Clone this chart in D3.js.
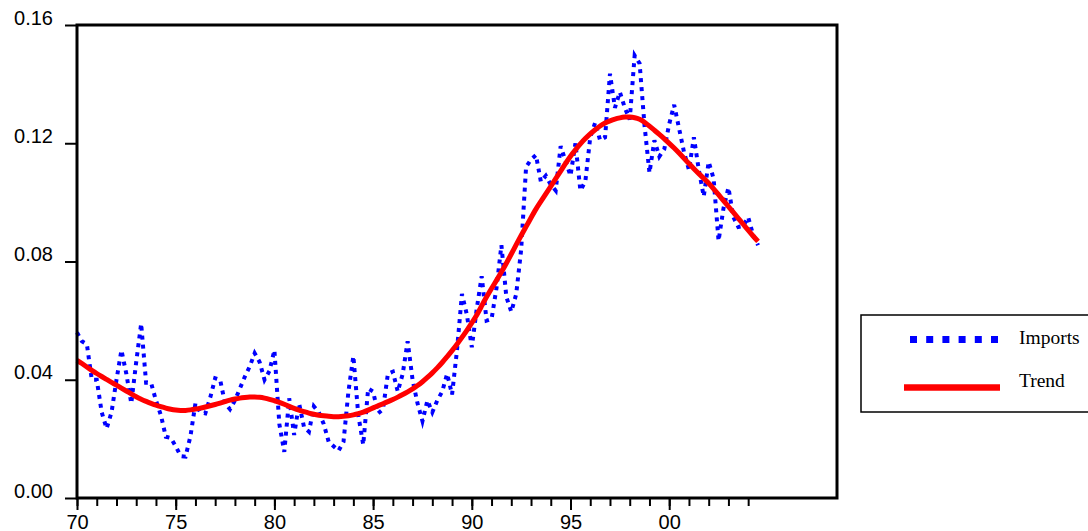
<!DOCTYPE html>
<html>
<head>
<meta charset="utf-8">
<script src="https://cdn.jsdelivr.net/npm/d3@7/dist/d3.min.js"></script>
<style>
  html, body { margin: 0; padding: 0; background: #fff; }
  svg { display: block; }
</style>
</head>
<body>
<svg id="chart" width="1088" height="531"></svg>
<script>
// ---- Data (quarterly, starting 1970Q1) ----
const startYear = 1970;
const imports = [
  0.056, 0.053, 0.052, 0.040, 0.040, 0.029, 0.0235, 0.029, 0.040, 0.050,
  0.042, 0.032, 0.046, 0.059, 0.039, 0.039, 0.033, 0.028, 0.0207, 0.0203,
  0.0175, 0.0142, 0.014, 0.021, 0.032, 0.029, 0.0286, 0.034, 0.0405, 0.040,
  0.032, 0.030, 0.033, 0.037, 0.041, 0.0445, 0.049, 0.046, 0.040, 0.043,
  0.050, 0.025, 0.0156, 0.0337, 0.0213, 0.032, 0.024, 0.0224, 0.031, 0.029,
  0.025, 0.019, 0.0175, 0.016, 0.019, 0.036, 0.048, 0.028, 0.018, 0.037,
  0.036, 0.0286, 0.030, 0.042, 0.0427, 0.036, 0.042, 0.053, 0.040, 0.032,
  0.026, 0.033, 0.029, 0.033, 0.036, 0.042, 0.035, 0.050, 0.069, 0.062,
  0.051, 0.064, 0.075, 0.060, 0.0605, 0.071, 0.0855, 0.068, 0.063, 0.069,
  0.084, 0.112, 0.1145, 0.116, 0.107, 0.109, 0.106, 0.104, 0.119, 0.114,
  0.109, 0.120, 0.104, 0.107, 0.122, 0.127, 0.121, 0.122, 0.1435, 0.132,
  0.1373, 0.132, 0.128, 0.1497, 0.147, 0.126, 0.110, 0.121, 0.1155, 0.118,
  0.1265, 0.133, 0.125, 0.117, 0.111, 0.122, 0.111, 0.102, 0.1137, 0.108,
  0.087, 0.098, 0.105, 0.095, 0.0917, 0.092, 0.095, 0.089, 0.0855
];
const trend = [
  0.0466, 0.0455, 0.0443, 0.0432,
  0.0421, 0.0411, 0.0401, 0.0391,
  0.0382, 0.0372, 0.0362, 0.0352,
  0.0342, 0.0334, 0.0327, 0.0320,
  0.0314, 0.0309, 0.0304, 0.0300,
  0.0297, 0.0296, 0.0296, 0.0298,
  0.0301, 0.0304, 0.0308, 0.0312,
  0.0316, 0.0321, 0.0326, 0.0331,
  0.0335, 0.0338, 0.0340, 0.0342,
  0.0342, 0.0341, 0.0338, 0.0334,
  0.0329, 0.0324, 0.0317, 0.0310,
  0.0303, 0.0297, 0.0292, 0.0287,
  0.0283, 0.0280, 0.0278, 0.0276,
  0.0275, 0.0275, 0.0276, 0.0278,
  0.0281, 0.0285, 0.0290, 0.0297,
  0.0305, 0.0312, 0.0319, 0.0326,
  0.0333, 0.0341, 0.0350, 0.0359,
  0.0369, 0.0380, 0.0393, 0.0408,
  0.0423, 0.0440, 0.0458, 0.0478,
  0.0498, 0.0520, 0.0543, 0.0567,
  0.0592, 0.0618, 0.0650, 0.0681,
  0.0709, 0.0736, 0.0764, 0.0794,
  0.0825, 0.0857, 0.0888, 0.0918,
  0.0948, 0.0978, 0.1003, 0.1029,
  0.1054, 0.1080, 0.1106, 0.1132,
  0.1157, 0.1178, 0.1198, 0.1216,
  0.1232, 0.1246, 0.1259, 0.1269,
  0.1276, 0.1282, 0.1286, 0.1289,
  0.1289, 0.1287, 0.1282, 0.1272,
  0.1258, 0.1244, 0.1230, 0.1215,
  0.1200, 0.1184, 0.1167, 0.1149,
  0.1131, 0.1114, 0.1097, 0.1081,
  0.1065, 0.1046, 0.1026, 0.1006,
  0.0986, 0.0966, 0.0946, 0.0926,
  0.0906, 0.0886, 0.0868
];
const yTicks = [0.00, 0.04, 0.08, 0.12, 0.16];
const yTickLabels = ["0.00", "0.04", "0.08", "0.12", "0.16"];
const xMajorYears = [1970, 1975, 1980, 1985, 1990, 1995, 2000];
const xMajorLabels = ["70", "75", "80", "85", "90", "95", "00"];
const xMinorYears = d3.range(1970, 2005);
const seriesNames = ["Imports", "Trend"];

// ---- Layout ----
const pLeft = 77, pRight = 837, pTop = 25, pBottom = 498;
const svg = d3.select("#chart");

const x = d3.scaleLinear().domain([1970, 2008.5]).range([pLeft, pRight]);
const y = d3.scaleLinear().domain([0, 0.16]).range([pBottom, pTop]);

const importsData = imports.map((v, i) => ({ t: startYear + i / 4, v }));
const trendData = trend.map((v, i) => ({ t: startYear + i / 4, v }));

// Lines
const lineLin = d3.line().x(d => x(d.t)).y(d => y(d.v));
const lineSmooth = d3.line().x(d => x(d.t)).y(d => y(d.v)).curve(d3.curveBasis);

svg.append("path")
  .datum(importsData)
  .attr("d", lineLin)
  .attr("fill", "none")
  .attr("stroke", "#0000ff")
  .attr("stroke-width", 4)
  .attr("stroke-dasharray", "4,5")
  .attr("stroke-linejoin", "miter");

svg.append("path")
  .datum(trendData)
  .attr("d", lineSmooth)
  .attr("fill", "none")
  .attr("stroke", "#ff0000")
  .attr("stroke-width", 5);

// Frame
svg.append("rect")
  .attr("x", pLeft).attr("y", pTop)
  .attr("width", pRight - pLeft).attr("height", pBottom - pTop)
  .attr("fill", "none").attr("stroke", "#000").attr("stroke-width", 3);

// Y axis ticks
const yAxis = d3.axisLeft(y)
  .tickValues(yTicks)
  .tickSize(12)
  .tickPadding(12)
  .tickFormat((d, i) => yTickLabels[i]);
const gy = svg.append("g").attr("transform", `translate(${pLeft},0)`).call(yAxis);
gy.select(".domain").remove();
gy.selectAll("line").attr("stroke", "#000").attr("stroke-width", 2);
gy.selectAll("text")
  .attr("font-family", "Liberation Sans, Arial, sans-serif")
  .attr("font-size", 20)
  .attr("fill", "#000")
  .attr("dy", "-0.05em");

// X axis minor ticks
const gxMinor = svg.append("g").attr("transform", `translate(0,${pBottom})`)
  .call(d3.axisBottom(x).tickValues(xMinorYears).tickSize(8).tickFormat(""));
gxMinor.select(".domain").remove();
gxMinor.selectAll("line").attr("stroke", "#000").attr("stroke-width", 2);

// X axis major ticks
const gx = svg.append("g").attr("transform", `translate(0,${pBottom})`)
  .call(d3.axisBottom(x).tickValues(xMajorYears).tickSize(12).tickPadding(5)
    .tickFormat((d, i) => xMajorLabels[i]));
gx.select(".domain").remove();
gx.selectAll("line").attr("stroke", "#000").attr("stroke-width", 2);
gx.selectAll("text")
  .attr("font-family", "Liberation Sans, Arial, sans-serif")
  .attr("font-size", 20)
  .attr("fill", "#000")
  .attr("dy", "0.72em");

// Legend
const lg = svg.append("g");
lg.append("rect")
  .attr("x", 861).attr("y", 315).attr("width", 240).attr("height", 97)
  .attr("fill", "#fff").attr("stroke", "#000").attr("stroke-width", 1.5);
lg.append("line")
  .attr("x1", 910).attr("x2", 998).attr("y1", 339.5).attr("y2", 339.5)
  .attr("stroke", "#0000ff").attr("stroke-width", 7).attr("stroke-dasharray", "7,9.2");
lg.append("line")
  .attr("x1", 904).attr("x2", 1000).attr("y1", 387.5).attr("y2", 387.5)
  .attr("stroke", "#ff0000").attr("stroke-width", 6.5);
lg.append("text")
  .attr("x", 1019).attr("y", 343.5)
  .attr("font-family", "Liberation Serif, Times New Roman, serif")
  .attr("font-size", 19.5).attr("fill", "#000")
  .text(seriesNames[0]);
lg.append("text")
  .attr("x", 1019).attr("y", 387)
  .attr("font-family", "Liberation Serif, Times New Roman, serif")
  .attr("font-size", 19.5).attr("fill", "#000")
  .text(seriesNames[1]);
</script>
</body>
</html>
